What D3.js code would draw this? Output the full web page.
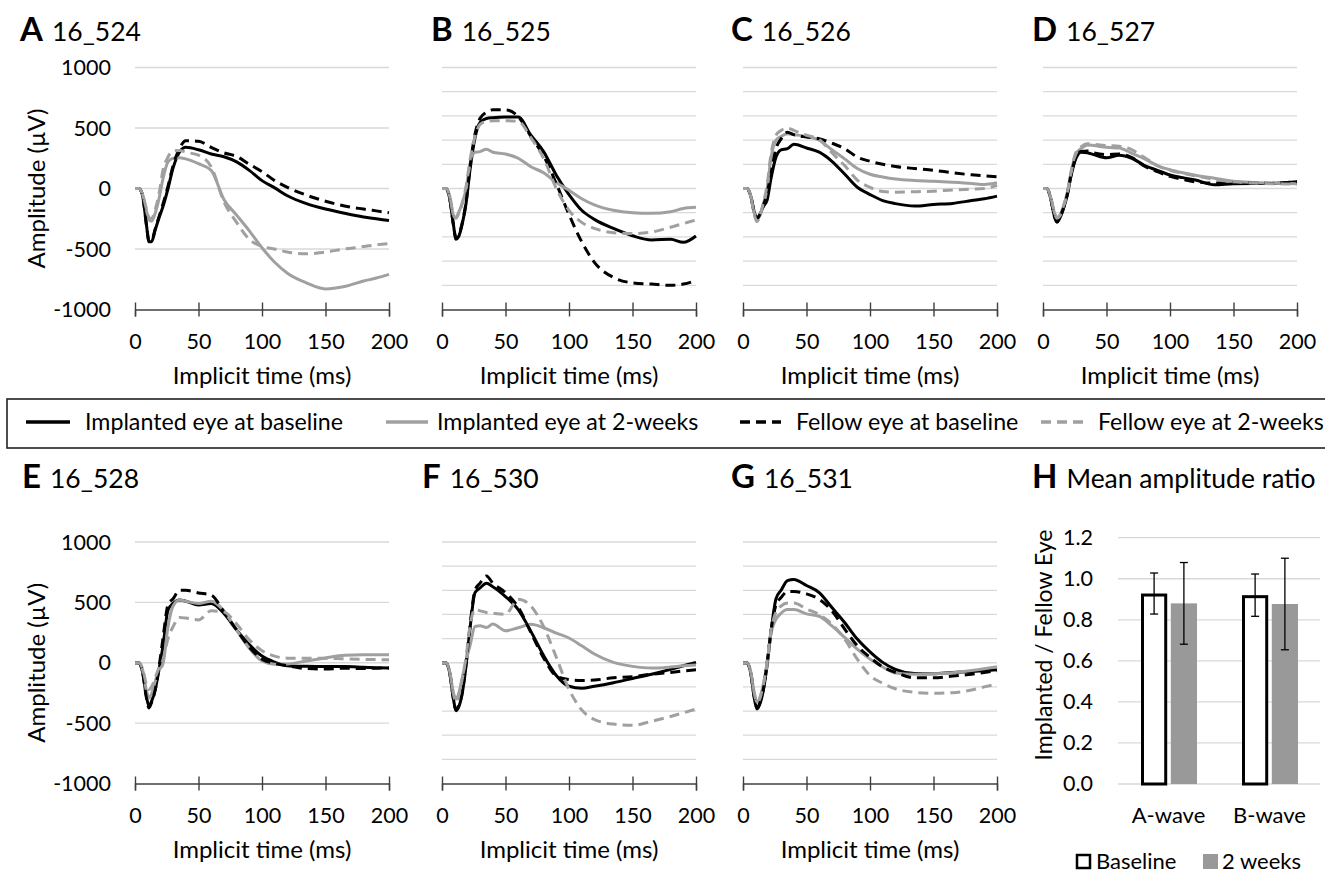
<!DOCTYPE html>
<html>
<head>
<meta charset="utf-8">
<script src="https://cdn.jsdelivr.net/npm/d3@7/dist/d3.min.js"></script>
<style>
  body { margin: 0; background: #fff; }
  svg { font-family: Lato, "Open Sans", sans-serif; }
</style>
</head>
<body>
<svg id="chart" width="1325" height="873"></svg>
<script>
// sample times (ms) shared by all ERG traces
const timeMs = [0,3,6,9,11,13,16,19,22,26,30,35,40,50,60,70,80,90,100,110,120,135,150,165,180,190,200];

// A 16_524
const a524ImplBase   = [0,0,-60,-300,-440,-440,-340,-240,-150,0,170,300,340,320,285,262,220,150,65,5,-60,-125,-170,-205,-235,-250,-265];
const a524Impl2w     = [0,0,-50,-180,-260,-270,-200,-80,80,220,250,255,245,205,150,-90,-220,-350,-490,-610,-700,-780,-830,-810,-765,-740,-710];
const a524FellowBase = [0,0,-60,-300,-430,-430,-330,-230,-130,20,190,330,395,390,340,295,265,200,140,65,10,-55,-105,-145,-170,-185,-200];
const a524Fellow2w   = [0,0,-50,-170,-240,-250,-170,-40,150,260,310,315,300,275,180,-110,-280,-420,-478,-500,-525,-540,-525,-500,-480,-465,-455];
// B 16_525
const b525ImplBase   = [0,0,-80,-300,-420,-400,-290,-120,150,420,545,578,585,590,590,440,305,110,-50,-180,-255,-330,-390,-425,-420,-445,-392];
const b525Impl2w     = [0,0,-60,-220,-240,-200,-120,0,200,300,305,325,300,285,250,180,130,50,-15,-85,-135,-180,-200,-205,-192,-165,-155];
const b525FellowBase = [0,0,-80,-300,-410,-390,-280,-110,170,450,580,630,650,650,595,430,270,40,-215,-440,-610,-735,-780,-790,-800,-790,-760];
const b525Fellow2w   = [0,0,-60,-220,-245,-210,-120,20,230,430,530,555,560,560,555,420,250,0,-180,-280,-330,-365,-372,-360,-320,-290,-260];
// C 16_526
const c526ImplBase   = [0,0,-60,-200,-250,-220,-150,-96,80,260,320,330,365,335,300,225,120,10,-50,-100,-125,-145,-132,-123,-100,-85,-63];
const c526Impl2w     = [0,0,-60,-210,-260,-230,-130,0,250,400,430,452,445,430,400,320,245,165,118,95,78,66,60,52,42,33,47];
const c526FellowBase = [0,0,-60,-200,-250,-220,-140,-40,120,330,410,465,445,425,411,375,329,260,225,200,182,165,151,130,113,104,96];
const c526Fellow2w   = [0,0,-60,-220,-274,-240,-120,30,280,440,480,500,480,440,405,295,190,70,10,-25,-30,-27,-22,-12,-5,0,27];
// D 16_527
const d527ImplBase   = [0,0,-80,-230,-279,-250,-170,-60,100,250,300,295,280,254,275,250,190,150,112,90,70,30,40,42,42,48,55];
const d527Impl2w     = [0,0,-70,-200,-240,-225,-150,-40,130,290,330,360,355,340,335,290,245,190,155,130,110,85,60,50,45,42,40];
const d527FellowBase = [0,0,-80,-230,-275,-245,-165,-55,110,260,305,310,295,280,285,255,185,140,100,75,55,45,48,44,42,48,55];
const d527Fellow2w   = [0,0,-70,-200,-245,-230,-150,-40,130,300,345,370,365,355,350,320,255,190,150,125,105,75,55,45,40,38,36];
// E 16_528
const e528ImplBase   = [0,0,-80,-280,-360,-320,-220,-50,135,437,492,520,510,478,490,409,272,150,55,5,-25,-30,-32,-32,-38,-42,-44];
const e528Impl2w     = [0,0,-60,-230,-291,-260,-150,-60,-10,300,470,520,510,490,510,430,270,120,15,-12,-10,15,40,62,66,66,66];
const e528FellowBase = [0,0,-80,-290,-374,-330,-220,-30,200,480,530,600,600,578,560,420,272,130,30,-5,-25,-48,-52,-45,-48,-45,-44];
const e528Fellow2w   = [0,0,-50,-180,-222,-200,-120,-40,25,200,299,375,370,355,430,420,320,190,100,55,38,38,38,32,28,26,25];
// F 16_530
const f530ImplBase   = [0,0,-80,-300,-397,-370,-250,-20,278,581,620,658,630,548,440,260,60,-105,-195,-212,-195,-165,-130,-95,-55,-25,3];
const f530Impl2w     = [0,0,-70,-250,-300,-260,-120,20,140,300,306,292,320,265,290,318,290,245,205,140,72,3,-30,-44,-35,-25,-19];
const f530FellowBase = [0,0,-80,-300,-390,-360,-240,0,300,600,660,719,660,580,460,250,40,-110,-140,-148,-143,-125,-115,-95,-80,-68,-58];
const f530Fellow2w   = [0,0,-70,-260,-328,-280,-130,50,300,443,430,416,410,402,526,470,300,45,-220,-390,-470,-508,-518,-485,-445,-415,-383];
// G 16_531
const g531ImplBase   = [0,0,-80,-300,-383,-350,-230,-20,250,530,600,680,690,640,581,457,333,196,90,3,-55,-90,-92,-80,-72,-65,-58];
const g531Impl2w     = [0,0,-70,-260,-328,-300,-180,0,240,360,410,440,440,405,385,305,210,113,30,-35,-85,-95,-92,-82,-65,-50,-33];
const g531FellowBase = [0,0,-80,-290,-370,-340,-220,0,260,480,540,590,590,570,525,430,280,140,45,-35,-80,-125,-125,-110,-95,-80,-66];
const g531Fellow2w   = [0,0,-70,-260,-328,-300,-180,0,260,420,470,495,495,445,400,320,196,30,-105,-170,-215,-245,-253,-248,-225,-200,-176];

// H mean amplitude ratio
const waveCats = ['A-wave', 'B-wave'];
const ratioGroups = ['Baseline', '2 weeks'];
const ratioBaseline = [0.928, 0.920];
const ratioBaselineErr = [0.100, 0.103];
const ratio2w = [0.880, 0.877];
const ratio2wErr = [0.199, 0.223];

const seriesNames = ['Implanted eye at baseline', 'Implanted eye at 2-weeks', 'Fellow eye at baseline', 'Fellow eye at 2-weeks'];
const ampTicksLabelled = [-1000, -500, 0, 500, 1000];
const timeTicks = [0, 50, 100, 150, 200];

const GRAY = '#a0a0a0';
const FONT = 'Lato, "Open Sans", sans-serif';
const styles = [
  {color: '#000', dash: null},
  {color: GRAY, dash: null},
  {color: '#000', dash: '10,6'},
  {color: GRAY, dash: '10,6'}
];

const panels = [
  {letter: 'A', name: '16_524', col: 0, row: 0, lx: 20,  labels: true,  data: [a524ImplBase, a524Impl2w, a524FellowBase, a524Fellow2w]},
  {letter: 'B', name: '16_525', col: 1, row: 0, lx: 431, labels: false, data: [b525ImplBase, b525Impl2w, b525FellowBase, b525Fellow2w]},
  {letter: 'C', name: '16_526', col: 2, row: 0, lx: 731, labels: false, data: [c526ImplBase, c526Impl2w, c526FellowBase, c526Fellow2w]},
  {letter: 'D', name: '16_527', col: 3, row: 0, lx: 1032, labels: false, data: [d527ImplBase, d527Impl2w, d527FellowBase, d527Fellow2w]},
  {letter: 'E', name: '16_528', col: 0, row: 1, lx: 22,  labels: true,  data: [e528ImplBase, e528Impl2w, e528FellowBase, e528Fellow2w]},
  {letter: 'F', name: '16_530', col: 1, row: 1, lx: 422, labels: false, data: [f530ImplBase, f530Impl2w, f530FellowBase, f530Fellow2w]},
  {letter: 'G', name: '16_531', col: 2, row: 1, lx: 731, labels: false, data: [g531ImplBase, g531Impl2w, g531FellowBase, g531Fellow2w]}
];

const colX = [135, 442, 743, 1043];
const plotW = 254;
const rows = [{top: 67.5, bottom: 309.5, title: 41}, {top: 542, bottom: 783.5, title: 488}];

const svg = d3.select('#chart');

function drawTitle(x, yb, letter, name) {
  const t = svg.append('text').attr('x', x).attr('y', yb).attr('fill', '#000');
  t.append('tspan').attr('font-weight', 700).attr('font-size', 33).text(letter);
  t.append('tspan').attr('dx', 9).attr('font-size', 26.5).text(name);
}

panels.forEach(p => {
  const r = rows[p.row];
  const x0 = colX[p.col];
  const x = d3.scaleLinear().domain([0, 200]).range([x0, x0 + plotW]);
  const y = d3.scaleLinear().domain([-1000, 1000]).range([r.bottom, r.top]);
  const g = svg.append('g');

  // gridlines
  const grid = p.labels ? [-500, 0, 500, 1000] : d3.range(-800, 1001, 200);
  g.selectAll('.grid').data(grid).join('line')
    .attr('x1', x(0)).attr('x2', x(200))
    .attr('y1', d => y(d)).attr('y2', d => y(d))
    .attr('stroke', '#d9d9d9').attr('stroke-width', 1.3);

  // x axis at -1000 with ticks crossing the line
  const ax = g.append('g')
    .attr('transform', `translate(0,${y(-1000)})`)
    .call(d3.axisBottom(x).tickValues(timeTicks).tickSizeOuter(0).tickSize(7));
  ax.select('.domain').attr('stroke', '#404040').attr('stroke-width', 1.4);
  ax.selectAll('.tick line').attr('y1', -7).attr('y2', 7).attr('stroke', '#404040').attr('stroke-width', 1.4);
  ax.selectAll('.tick text').attr('y', 39).attr('dy', null)
    .attr('font-size', 21.5).attr('font-family', FONT).attr('fill', '#000');

  if (p.labels) {
    g.selectAll('.ylab').data(ampTicksLabelled).join('text')
      .attr('x', x0 - 24).attr('y', d => y(d)).attr('dy', '0.36em')
      .attr('text-anchor', 'end').attr('font-size', 21.5).text(d => d);
    g.append('text')
      .attr('transform', `translate(45,${(r.top + r.bottom) / 2}) rotate(-90)`)
      .attr('text-anchor', 'middle').attr('font-size', 24).text('Amplitude (µV)');
  }

  g.append('text')
    .attr('x', x0 + plotW / 2).attr('y', r.bottom + 74)
    .attr('text-anchor', 'middle').attr('font-size', 24).text('Implicit time (ms)');

  // traces
  const line = d3.line()
    .x((d, i) => x(timeMs[i]))
    .y(d => y(d))
    .curve(d3.curveMonotoneX);
  p.data.forEach((vals, i) => {
    g.append('path').datum(vals)
      .attr('d', line)
      .attr('fill', 'none')
      .attr('stroke', styles[i].color)
      .attr('stroke-width', 3)
      .attr('stroke-linejoin', 'round')
      .attr('stroke-dasharray', styles[i].dash);
  });

  drawTitle(p.lx, r.title, p.letter, p.name);
});

// shared legend box
const legY = 422;
svg.append('rect').attr('x', 7).attr('y', 399).attr('width', 1340).attr('height', 49)
  .attr('fill', 'none').attr('stroke', '#222').attr('stroke-width', 1.6);
const legPos = [[26, 70, 85], [386, 428, 437], [740, 781, 796], [1041, 1083, 1098]];
seriesNames.forEach((name, i) => {
  const [a, b, tx] = legPos[i];
  svg.append('line').attr('x1', a).attr('x2', b).attr('y1', legY).attr('y2', legY)
    .attr('stroke', styles[i].color).attr('stroke-width', 3.5)
    .attr('stroke-dasharray', styles[i].dash);
  svg.append('text').attr('x', tx).attr('y', 430).attr('font-size', 23.2).text(name);
});

// H panel: bar chart
const hx = d3.scaleBand().domain(waveCats).range([1118, 1320]);
const hInner = d3.scaleBand().domain(ratioGroups).range([23, 79]).paddingInner(0.12);
const hy = d3.scaleLinear().domain([0, 1.2]).range([784, 537.7]);
const hg = svg.append('g');

hg.selectAll('.hgrid').data(d3.range(0, 1.21, 0.2)).join('line')
  .attr('x1', 1118).attr('x2', 1320)
  .attr('y1', d => hy(d)).attr('y2', d => hy(d))
  .attr('stroke', '#d9d9d9').attr('stroke-width', 1.3);

const hyAxis = hg.append('g').attr('transform', 'translate(1118,0)')
  .call(d3.axisLeft(hy).tickValues(d3.range(0, 1.21, 0.2)).tickFormat(d3.format('.1f')).tickSize(0).tickPadding(25));
hyAxis.select('.domain').remove();
hyAxis.selectAll('text').attr('font-size', 21.5).attr('font-family', FONT).attr('fill', '#000');

hg.append('text')
  .attr('transform', 'translate(1052,645) rotate(-90)')
  .attr('text-anchor', 'middle').attr('font-size', 23).text('Implanted / Fellow Eye');

const barRows = waveCats.map((c, i) => [
  {cat: c, grp: 'Baseline', v: ratioBaseline[i], e: ratioBaselineErr[i]},
  {cat: c, grp: '2 weeks', v: ratio2w[i], e: ratio2wErr[i]}
]).flat();

const bw = hInner.bandwidth();
barRows.forEach(d => {
  const bx = hx(d.cat) + hInner(d.grp);
  if (d.grp === 'Baseline') {
    hg.append('rect').attr('x', bx + 1.5).attr('width', bw - 3)
      .attr('y', hy(d.v) + 1.5).attr('height', hy(0) - hy(d.v) - 1.5)
      .attr('fill', '#fff').attr('stroke', '#000').attr('stroke-width', 3);
  } else {
    hg.append('rect').attr('x', bx).attr('width', bw)
      .attr('y', hy(d.v)).attr('height', hy(0) - hy(d.v))
      .attr('fill', '#999');
  }
  const cx = bx + bw / 2;
  hg.append('line').attr('x1', cx).attr('x2', cx)
    .attr('y1', hy(d.v - d.e)).attr('y2', hy(d.v + d.e))
    .attr('stroke', '#000').attr('stroke-width', 1.3);
  [d.v - d.e, d.v + d.e].forEach(v => {
    hg.append('line').attr('x1', cx - 4).attr('x2', cx + 4)
      .attr('y1', hy(v)).attr('y2', hy(v))
      .attr('stroke', '#000').attr('stroke-width', 1.3);
  });
});

hg.selectAll('.cat').data(waveCats).join('text')
  .attr('x', d => hx(d) + hx.bandwidth() / 2).attr('y', 823)
  .attr('text-anchor', 'middle').attr('font-size', 22).text(d => d);

drawTitle(1032, 488, 'H', 'Mean amplitude ratio');

// H legend
hg.append('rect').attr('x', 1077).attr('y', 855).attr('width', 13).attr('height', 13)
  .attr('fill', '#fff').attr('stroke', '#000').attr('stroke-width', 2.5);
hg.append('text').attr('x', 1096).attr('y', 869).attr('font-size', 22).text(ratioGroups[0]);
hg.append('rect').attr('x', 1203).attr('y', 854).attr('width', 15).attr('height', 15).attr('fill', '#999');
hg.append('text').attr('x', 1222).attr('y', 869).attr('font-size', 22).text(ratioGroups[1]);
</script>
</body>
</html>
